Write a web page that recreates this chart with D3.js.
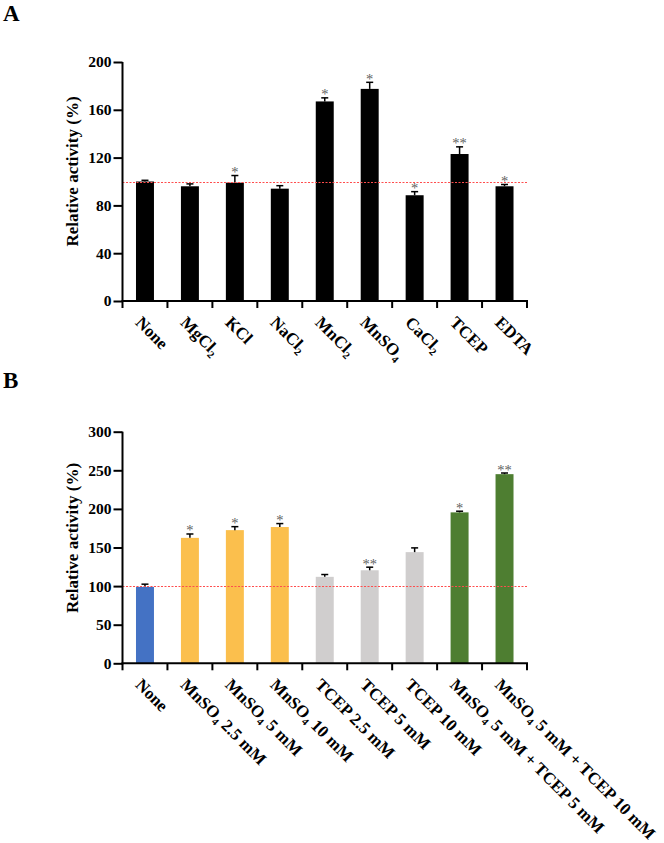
<!DOCTYPE html>
<html>
<head>
<meta charset="utf-8">
<script src="https://cdn.jsdelivr.net/npm/d3@7"></script>
<style>
  html, body { margin: 0; padding: 0; background: #fff; }
  svg { display: block; }
</style>
</head>
<body>
<svg id="chart" width="664" height="843"></svg>
<script>
// ---------- DATA ----------
const categoriesA = ["None", "MgCl_2", "KCl", "NaCl_2", "MnCl_2", "MnSO_4", "CaCl_2", "TCEP", "EDTA"];
const valuesA = [100, 96, 99, 94, 167, 177.5, 88.5, 123, 96];
const errorsA = [1, 2, 6, 2.5, 3, 5.5, 3, 6, 1.5];
const sigA = ["", "", "*", "", "*", "*", "*", "**", "*"];
const ticksA = [0, 40, 80, 120, 160, 200];

const categoriesB = ["None", "MnSO_4 2.5 mM", "MnSO_4 5 mM", "MnSO_4 10 mM", "TCEP 2.5 mM", "TCEP 5 mM", "TCEP 10 mM", "MnSO_4 5 mM + TCEP 5 mM", "MnSO_4 5 mM + TCEP 10 mM"];
const valuesB = [99, 162.5, 172.5, 176.5, 112, 120.5, 144, 195.5, 245];
const errorsB = [3.5, 5, 4.5, 4.5, 3, 4, 5.5, 1.5, 1.5];
const sigB = ["", "*", "*", "*", "", "**", "", "*", "**"];
const groupsB = ["none", "mn", "mn", "mn", "tcep", "tcep", "tcep", "combo", "combo"];
const ticksB = [0, 50, 100, 150, 200, 250, 300];
const groupColors = { none: "#4472c4", mn: "#fbbf4d", tcep: "#d0cece", combo: "#4e7e31", black: "#000000" };
const referenceValue = 100;

// ---------- DRAW ----------
const FONT = "'Liberation Serif', 'Times New Roman', serif";
const svg = d3.select("#chart");
const X0 = 122.5, X1 = 527;

function addLabel(sel, text, size) {
  const parts = text.split(/(_\d)/);
  let shifted = false;
  parts.forEach(p => {
    if (!p) return;
    if (p.startsWith("_")) {
      sel.append("tspan").attr("font-size", size * 0.62).attr("dy", size * 0.2).text(p.slice(1));
      shifted = true;
    } else {
      const t = sel.append("tspan").text(p);
      if (shifted) { t.attr("dy", -size * 0.2); shifted = false; }
    }
  });
}

function drawPanel(cfg) {
  const g = svg.append("g");
  const x = d3.scaleBand().domain(cfg.categories).range([X0, X1]).paddingInner(0.6).paddingOuter(0.3);
  const y = d3.scaleLinear().domain(cfg.domain).range([cfg.yBottom, cfg.yTop]);

  // panel letter
  g.append("text").attr("x", 3).attr("y", cfg.letterY)
    .attr("font-family", FONT).attr("font-weight", "bold").attr("font-size", 23)
    .text(cfg.letter);

  // bars
  g.selectAll("rect.bar").data(cfg.categories).enter().append("rect")
    .attr("x", d => x(d)).attr("width", x.bandwidth())
    .attr("y", (d, i) => y(cfg.values[i]))
    .attr("height", (d, i) => y(0) - y(cfg.values[i]))
    .attr("fill", (d, i) => groupColors[cfg.groups[i]]);

  // error bars
  const eb = g.selectAll("g.err").data(cfg.categories).enter().append("g");
  eb.append("line")
    .attr("x1", d => x(d) + x.bandwidth() / 2).attr("x2", d => x(d) + x.bandwidth() / 2)
    .attr("y1", (d, i) => y(cfg.values[i])).attr("y2", (d, i) => y(cfg.values[i] + cfg.errors[i]))
    .attr("stroke", "#000").attr("stroke-width", 1.5);
  eb.append("line")
    .attr("x1", d => x(d) + x.bandwidth() / 2 - 3.5).attr("x2", d => x(d) + x.bandwidth() / 2 + 3.5)
    .attr("y1", (d, i) => y(cfg.values[i] + cfg.errors[i])).attr("y2", (d, i) => y(cfg.values[i] + cfg.errors[i]))
    .attr("stroke", "#000").attr("stroke-width", 1.5);

  // significance
  const sg = g.append("g").attr("opacity", 0.99);
  sg.selectAll("text.sig").data(cfg.categories).enter().append("text")
    .attr("x", d => x(d) + x.bandwidth() / 2)
    .attr("y", (d, i) => y(cfg.values[i] + cfg.errors[i]) + 1.5)
    .attr("text-anchor", "middle")
    .attr("font-family", FONT).attr("font-size", 14.5).attr("fill", "#5e5e5e")
    .text((d, i) => cfg.sig[i]);

  // reference line
  const ry = Math.round(y(referenceValue)) + 0.5;
  g.append("line")
    .attr("x1", X0).attr("x2", X1)
    .attr("y1", ry).attr("y2", ry)
    .attr("stroke", "#ff4d4d").attr("stroke-width", 1).attr("stroke-dasharray", "2,1.5");

  // y axis
  const yAxis = g.append("g").attr("transform", `translate(${X0},0)`)
    .call(d3.axisLeft(y).tickValues(cfg.ticks).tickSize(9).tickPadding(2).tickSizeOuter(0));
  yAxis.select(".domain").attr("stroke-width", 2).attr("d", `M0,${cfg.yTop}V${cfg.yBottom + 1}`);
  yAxis.selectAll(".tick line").attr("stroke-width", 2);
  yAxis.selectAll(".tick text").attr("font-family", FONT).attr("font-weight", "bold").attr("font-size", 15.5).attr("fill", "#000");

  // x axis
  const bounds = cfg.categories.map(d => x(d) - (x.step() - x.bandwidth()) / 2);
  bounds.push(x.range()[1]);
  g.append("line").attr("x1", X0 - 1).attr("x2", X1 + 1)
    .attr("y1", cfg.yBottom).attr("y2", cfg.yBottom)
    .attr("stroke", "#000").attr("stroke-width", 2);
  g.selectAll("line.xtick").data(bounds).enter().append("line")
    .attr("x1", d => d).attr("x2", d => d)
    .attr("y1", cfg.yBottom).attr("y2", cfg.yBottom + 7)
    .attr("stroke", "#000").attr("stroke-width", 2);

  // x labels
  cfg.categories.forEach(d => {
    const cx = x(d) + x.bandwidth() / 2;
    const t = g.append("text")
      .attr("transform", `translate(${cx - 10.5},${cfg.yBottom + 22.5}) rotate(45)`)
      .attr("font-family", FONT).attr("font-weight", "bold").attr("font-size", 17);
    addLabel(t, d, 17);
  });

  // y label
  g.append("text")
    .attr("transform", `translate(77.5,${cfg.labelY}) rotate(-90)`)
    .attr("text-anchor", "middle")
    .attr("font-family", FONT).attr("font-weight", "bold").attr("font-size", 17)
    .text("Relative activity (%)");
}

drawPanel({
  letter: "A", letterY: 21,
  categories: categoriesA, values: valuesA, errors: errorsA, sig: sigA,
  groups: categoriesA.map(() => "black"),
  domain: [0, 200], ticks: ticksA, yTop: 62, yBottom: 301, labelY: 171.5
});
drawPanel({
  letter: "B", letterY: 388,
  categories: categoriesB, values: valuesB, errors: errorsB, sig: sigB,
  groups: groupsB,
  domain: [0, 300], ticks: ticksB, yTop: 431.7, yBottom: 663.3, labelY: 538
});
</script>
</body>
</html>
